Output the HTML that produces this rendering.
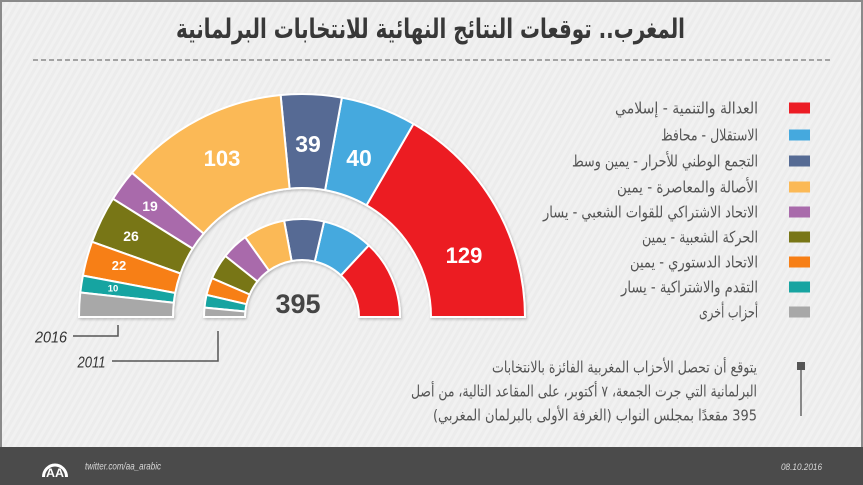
<!DOCTYPE html>
<html lang="ar">
<head>
<meta charset="utf-8">
<style>
  html,body{margin:0;padding:0;background:#ececec;}
  body{width:863px;height:485px;overflow:hidden;}
  svg{display:block;}
  .ar{font-family:"DejaVu Sans",sans-serif;}
  .num{font-family:"Liberation Sans",sans-serif;font-weight:bold;}
</style>
</head>
<body>
<svg width="863" height="485" viewBox="0 0 863 485" xmlns="http://www.w3.org/2000/svg">
  <defs>
    <pattern id="stripes" patternUnits="userSpaceOnUse" width="6" height="6" patternTransform="rotate(30)">
      <rect width="6" height="6" fill="#ececec"/>
      <rect width="3" height="6" fill="#f1f1f1"/>
    </pattern>
    <filter id="sh" x="-10%" y="-10%" width="120%" height="130%">
      <feDropShadow dx="1" dy="1.5" stdDeviation="1.2" flood-color="#000" flood-opacity="0.22"/>
    </filter>
  </defs>

  <!-- background -->
  <rect x="0" y="0" width="863" height="485" fill="url(#stripes)"/>
  <!-- frame -->
  <rect x="0" y="0" width="863" height="2" fill="#8a8a8a"/>
  <rect x="0" y="0" width="2" height="447" fill="#8a8a8a"/>
  <rect x="861" y="0" width="2" height="447" fill="#8a8a8a"/>

  <!-- title -->
  <text class="ar" x="430.5" y="38" font-size="27" font-weight="bold" fill="#383838" text-anchor="middle" direction="rtl" textLength="509" lengthAdjust="spacingAndGlyphs">المغرب.. توقعات النتائج النهائية للانتخابات البرلمانية</text>
  <line x1="33" y1="60" x2="830" y2="60" stroke="#8a8a8a" stroke-width="1.5" stroke-dasharray="5 3"/>

  <!-- outer ring 2016 -->
  <g stroke="#ffffff" stroke-width="2" stroke-linejoin="miter" filter="url(#sh)">
    <path fill="#ec1c24" d="M525,317 A223,223 0 0 0 413.5,123.9 L366.5,205.3 A129,129 0 0 1 431,317 Z"/>
    <path fill="#45a9de" d="M413.5,123.9 A223,223 0 0 0 341.9,97.6 L325.1,190.1 A129,129 0 0 1 366.5,205.3 Z"/>
    <path fill="#566b94" d="M341.9,97.6 A223,223 0 0 0 280.6,95.0 L289.6,188.6 A129,129 0 0 1 325.1,190.1 Z"/>
    <path fill="#fbb956" d="M280.6,95.0 A223,223 0 0 0 131.9,172.8 L203.6,233.6 A129,129 0 0 1 289.6,188.6 Z"/>
    <path fill="#a96bab" d="M131.9,172.8 A223,223 0 0 0 112.9,198.8 L192.6,248.6 A129,129 0 0 1 203.6,233.6 Z"/>
    <path fill="#787616" d="M112.9,198.8 A223,223 0 0 0 92.0,241.8 L180.5,273.5 A129,129 0 0 1 192.6,248.6 Z"/>
    <path fill="#f77f16" d="M92.0,241.8 A223,223 0 0 0 82.9,275.6 L175.2,293.0 A129,129 0 0 1 180.5,273.5 Z"/>
    <path fill="#17a4a1" d="M82.9,275.6 A223,223 0 0 0 80.3,292.5 L173.8,302.8 A129,129 0 0 1 175.2,293.0 Z"/>
    <path fill="#a8a8a8" d="M80.3,292.5 A223,223 0 0 0 79,317 L173,317 A129,129 0 0 1 173.8,302.8 Z"/>
  </g>

  <!-- inner ring 2011 -->
  <g stroke="#ffffff" stroke-width="2" stroke-linejoin="miter" filter="url(#sh)">
    <path fill="#ec1c24" d="M400,317 A98,98 0 0 0 368.8,245.3 L340.9,275.3 A57,57 0 0 1 359,317 Z"/>
    <path fill="#45a9de" d="M368.8,245.3 A98,98 0 0 0 324.1,221.5 L314.8,261.5 A57,57 0 0 1 340.9,275.3 Z"/>
    <path fill="#566b94" d="M324.1,221.5 A98,98 0 0 0 284.1,220.6 L291.6,261.0 A57,57 0 0 1 314.8,261.5 Z"/>
    <path fill="#fbb956" d="M284.1,220.6 A98,98 0 0 0 245.1,237.2 L268.9,270.6 A57,57 0 0 1 291.6,261.0 Z"/>
    <path fill="#a96bab" d="M245.1,237.2 A98,98 0 0 0 225.3,256.0 L257.4,281.5 A57,57 0 0 1 268.9,270.6 Z"/>
    <path fill="#787616" d="M225.3,256.0 A98,98 0 0 0 212.0,278.2 L249.7,294.5 A57,57 0 0 1 257.4,281.5 Z"/>
    <path fill="#f77f16" d="M212.0,278.2 A98,98 0 0 0 206.5,294.9 L246.5,304.2 A57,57 0 0 1 249.7,294.5 Z"/>
    <path fill="#17a4a1" d="M206.5,294.9 A98,98 0 0 0 204.5,307.6 L245.3,311.5 A57,57 0 0 1 246.5,304.2 Z"/>
    <path fill="#a8a8a8" d="M204.5,307.6 A98,98 0 0 0 204,317 L245,317 A57,57 0 0 1 245.3,311.5 Z"/>
  </g>

  <!-- segment labels -->
  <g class="num" fill="#ffffff" text-anchor="middle">
    <text x="464" y="263" font-size="22">129</text>
    <text x="359" y="166" font-size="23">40</text>
    <text x="308" y="152" font-size="23">39</text>
    <text x="222" y="166" font-size="22">103</text>
    <text x="150" y="211" font-size="14">19</text>
    <text x="131" y="241" font-size="14">26</text>
    <text x="119" y="270" font-size="13">22</text>
    <text x="113" y="291.5" font-size="9.5">10</text>
  </g>
  <text class="num" x="298" y="313" font-size="27" fill="#454545" text-anchor="middle">395</text>

  <!-- year labels -->
  <text x="51" y="342.5" font-family="Liberation Sans, sans-serif" font-style="italic" font-size="16" fill="#333" text-anchor="middle" textLength="32" lengthAdjust="spacingAndGlyphs">2016</text>
  <path d="M73,336 H118 V325" fill="none" stroke="#555" stroke-width="1.5"/>
  <text x="91.5" y="367.5" font-family="Liberation Sans, sans-serif" font-style="italic" font-size="16" fill="#333" text-anchor="middle" textLength="28" lengthAdjust="spacingAndGlyphs">2011</text>
  <path d="M112,361 H218 V331" fill="none" stroke="#555" stroke-width="1.5"/>

  <!-- legend swatches -->
  <rect x="789" y="102.5" width="21" height="11" fill="#ec1c24"/>
  <rect x="789" y="129.5" width="21" height="11" fill="#45a9de"/>
  <rect x="789" y="155.5" width="21" height="11" fill="#566b94"/>
  <rect x="789" y="181.5" width="21" height="11" fill="#fbb956"/>
  <rect x="789" y="206.5" width="21" height="11" fill="#a96bab"/>
  <rect x="789" y="231.5" width="21" height="11" fill="#787616"/>
  <rect x="789" y="256.5" width="21" height="11" fill="#f77f16"/>
  <rect x="789" y="281.5" width="21" height="11" fill="#17a4a1"/>
  <rect x="789" y="306.5" width="21" height="11" fill="#a8a8a8"/>

  <!-- legend labels -->
  <g class="ar" font-size="16" fill="#555555" text-anchor="middle" direction="rtl">
    <text x="686.5" y="113.5" textLength="143" lengthAdjust="spacingAndGlyphs">العدالة والتنمية - إسلامي</text>
    <text x="709.5" y="140.5" textLength="97" lengthAdjust="spacingAndGlyphs">الاستقلال - محافظ</text>
    <text x="665" y="166.5" textLength="186" lengthAdjust="spacingAndGlyphs">التجمع الوطني للأحرار - يمين وسط</text>
    <text x="687.5" y="192.5" textLength="141" lengthAdjust="spacingAndGlyphs">الأصالة والمعاصرة -  يمين</text>
    <text x="650.5" y="217.5" textLength="215" lengthAdjust="spacingAndGlyphs">الاتحاد الاشتراكي للقوات الشعبي - يسار</text>
    <text x="700" y="242.5" textLength="116" lengthAdjust="spacingAndGlyphs">الحركة الشعبية - يمين</text>
    <text x="694" y="267.5" textLength="128" lengthAdjust="spacingAndGlyphs">الاتحاد الدستوري - يمين</text>
    <text x="689.5" y="292.5" textLength="137" lengthAdjust="spacingAndGlyphs">التقدم والاشتراكية - يسار</text>
    <text x="728.5" y="317.5" textLength="59" lengthAdjust="spacingAndGlyphs">أحزاب أخرى</text>
  </g>

  <!-- note -->
  <rect x="797" y="362" width="8" height="8" fill="#555"/>
  <line x1="801" y1="370" x2="801" y2="416" stroke="#666" stroke-width="1.5"/>
  <g class="ar" font-size="15.5" fill="#555555" text-anchor="middle" direction="rtl">
    <text x="624.5" y="372.5" textLength="265" lengthAdjust="spacingAndGlyphs">يتوقع أن تحصل الأحزاب المغربية الفائزة بالانتخابات</text>
    <text x="584" y="396.5" textLength="346" lengthAdjust="spacingAndGlyphs">البرلمانية التي جرت الجمعة، ٧ أكتوبر، على المقاعد التالية، من أصل</text>
    <text x="595" y="420.5" textLength="324" lengthAdjust="spacingAndGlyphs">395 مقعدًا بمجلس النواب (الغرفة الأولى بالبرلمان المغربي)</text>
  </g>

  <!-- footer -->
  <rect x="0" y="447" width="863" height="38" fill="#4b4b4b"/>
  <path d="M43.5,477 A11.5,12 0 0 1 66.5,477" fill="none" stroke="#ffffff" stroke-width="3"/>
  <text x="55" y="477" font-family="Liberation Sans, sans-serif" font-weight="bold" font-size="12" fill="#ffffff" text-anchor="middle" textLength="18" lengthAdjust="spacingAndGlyphs">AA</text>
  <text x="85" y="469.5" font-family="Liberation Sans, sans-serif" font-style="italic" font-size="10" fill="#d8d8d8" textLength="76" lengthAdjust="spacingAndGlyphs">twitter.com/aa_arabic</text>
  <text x="781" y="470" font-family="Liberation Sans, sans-serif" font-style="italic" font-size="9.5" fill="#d8d8d8" textLength="41" lengthAdjust="spacingAndGlyphs">08.10.2016</text>
</svg>
</body>
</html>
